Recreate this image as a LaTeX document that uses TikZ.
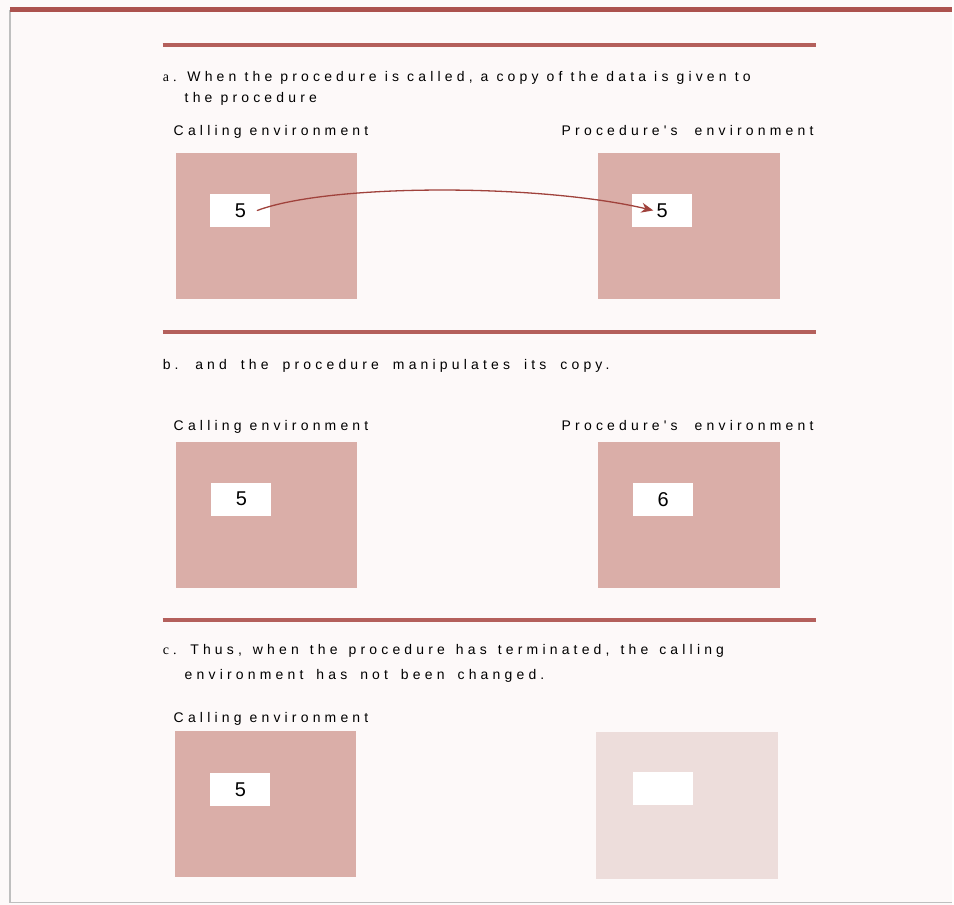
\documentclass[tikz,border=0pt]{standalone}
\usepackage{fontspec}
\setmainfont{Liberation Sans}
\newfontfamily\spaced[LetterSpace=30]{Liberation Sans}
\newfontfamily\stepmark[LetterSpace=30]{Liberation Serif}
\usetikzlibrary{arrows.meta}
\usepackage{xcolor}
\definecolor{paper}{RGB}{253,249,249}
\definecolor{toprule}{RGB}{172,82,78}
\definecolor{rulered}{RGB}{180,96,92}
\definecolor{envpink}{RGB}{218,174,168}
\definecolor{envfade}{RGB}{237,221,219}
\definecolor{arrowred}{RGB}{160,66,60}

\begin{document}
\begin{tikzpicture}[x=1pt,y=-1pt,>={Stealth[length=12pt,width=10pt]},line cap=round,
  rule/.style={rulered,line width=4pt,line cap=butt},
  envbox/.style={fill=envpink,minimum width=182pt,minimum height=147pt,inner sep=0pt},
  oldbox/.style={envbox,fill=envfade},
  slot/.style={fill=white,minimum width=60pt,minimum height=33pt,inner sep=0pt,
    font=\fontsize{20}{20}\selectfont,text=black},
  say/.style={anchor=base west,inner sep=0pt,font=\spaced\fontsize{14}{16}\selectfont,text=black}]
\fill[paper] (0,0) rectangle (954,907);
\draw[gray!50,line width=1.2pt,line cap=butt] (10,10) -- (10,905) -- (954,905);
\draw[toprule,line width=5pt,line cap=butt] (10,9.5) -- (954,9.5);
\foreach \y in {45,333,622}
  \draw[rule] (163,\y) -- (818,\y);
% a. the call hands over a copy
\node[say] (capA1) at (163,82) {{\stepmark a.} When the procedure is called, a copy of the data is given to};
\node[say] (capA2) at (185,103) {the procedure};
\node[say] (callA) at (174,136) {Calling environment};
\node[say] (procA) at (563,136) {Procedure's\hspace{9pt} environment};
\node[envbox] (envA1) at (267,226.5) {};
\node[slot] (valA1) at (241,211) {5};
\node[envbox] (envA2) at (691,226.5) {};
\node[slot] (valA2) at (664,211) {5};
\draw[->,arrowred,line width=1.3pt] ([xshift=17pt]valA1.center)
  .. controls (330,184) and (540,184) .. ([xshift=-9pt]valA2.center);
% b. the copy is changed
\node[say] (capB) at (163,370) {\spaceskip=14pt\relax b. and the procedure manipulates its copy.};
\node[say] (callB) at (174,432) {Calling environment};
\node[say] (procB) at (563,432) {Procedure's\hspace{9pt} environment};
\node[envbox] (envB1) at (267,516.5) {};
\node[slot] (valB1) at (242,500.5) {5};
\node[envbox] (envB2) at (691,516.5) {};
\node[slot] (valB2) at (665,500.5) {6};
% c. caller keeps its value
\node[say] (capC1) at (163,656) {\spaceskip=11pt\relax{\stepmark c.} Thus, when the procedure has terminated, the calling};
\node[say] (capC2) at (185,681) {\spaceskip=13pt\relax environment has not been changed.};
\node[say] (callC) at (174,724) {Calling environment};
\node[envbox] (envC1) at (266,806) {};
\node[slot] (valC1) at (241,791.5) {5};
\node[oldbox] (envC2) at (689,807.5) {};
\node[slot] (valC2) at (664.5,791) {};
\end{tikzpicture}
\end{document}
